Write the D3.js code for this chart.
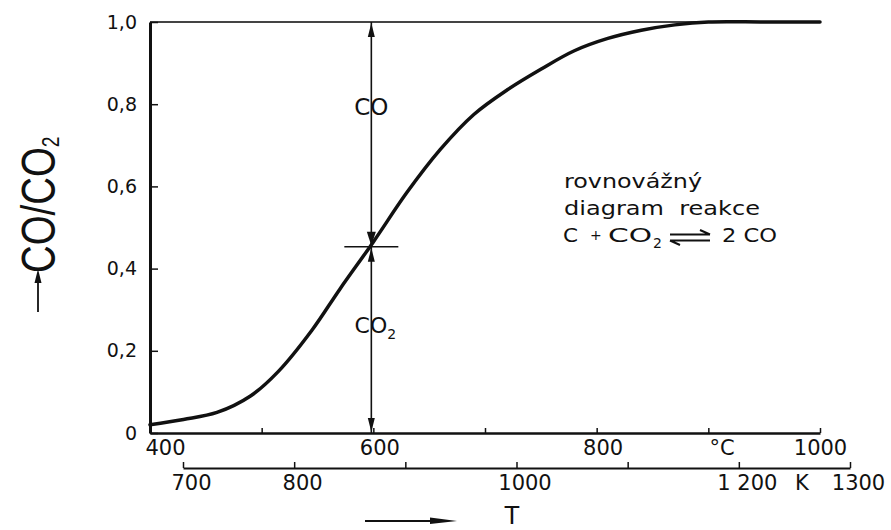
<!DOCTYPE html>
<html>
<head>
<meta charset="utf-8">
<script src="https://cdn.jsdelivr.net/npm/d3@7"></script>
<style>
  html, body { margin: 0; padding: 0; background: #fff; }
  svg { display: block; }
</style>
</head>
<body>
<svg id="chart" width="891" height="530"></svg>
<script>
// ---- data ----
const tempC   = [400, 430, 460, 490, 515, 545, 570, 600, 630, 660, 690, 720, 750, 780, 810, 840, 870, 900, 950, 1000];
const coRatio = [0.02, 0.033, 0.05, 0.09, 0.15, 0.25, 0.35, 0.465, 0.585, 0.69, 0.775, 0.835, 0.885, 0.93, 0.96, 0.98, 0.993, 1.0, 1.0, 1.0];

const yTicks       = [0, 0.2, 0.4, 0.6, 0.8, 1.0];
const yTickLabels  = ["0", "0,2", "0,4", "0,6", "0,8", "1,0"];
const celsiusTicks  = [400, 500, 600, 700, 800, 900, 1000];
const celsiusLabels = ["400", "", "600", "", "800", "", "1000"];
const kelvinTicks   = [700, 800, 900, 1000, 1100, 1200, 1300];
const kelvinLabels  = ["700", "800", "", "1000", "", "1 200", "1300"];

const eqTemp = 600;      // marked temperature (°C)
const eqRatio = 0.453;   // CO fraction at that temperature

// ---- scales ----
const svg = d3.select("#chart");
const ink = "#111";
const x  = d3.scaleLinear().domain([400, 1000]).range([150, 820]);
const xK = d3.scaleLinear().domain([700, 1300]).range([183, 850]);
const y  = d3.scaleLinear().domain([0, 1]).range([433, 22]);

const tickFont = "DejaVu Sans, sans-serif";

// top frame line at 1.0
svg.append("line")
  .attr("x1", x(400)).attr("x2", x(1000))
  .attr("y1", y(1)).attr("y2", y(1))
  .attr("stroke", "#444").attr("stroke-width", 1.8);

// ---- y axis ----
const gy = svg.append("g").attr("transform", `translate(${x(400)},0)`)
  .call(d3.axisLeft(y).tickValues(yTicks)
        .tickFormat((d, i) => yTickLabels[i])
        .tickSizeInner(-8).tickSizeOuter(0).tickPadding(13));
gy.select(".domain").attr("stroke", ink).attr("stroke-width", 3);
gy.selectAll(".tick line").attr("stroke", ink).attr("stroke-width", 1.5);
gy.selectAll(".tick text").attr("font-family", tickFont).attr("font-size", 19).attr("fill", ink);

// ---- °C axis ----
const gc = svg.append("g").attr("transform", `translate(0,${y(0)})`)
  .call(d3.axisBottom(x).tickValues(celsiusTicks)
        .tickFormat((d, i) => celsiusLabels[i])
        .tickSizeInner(-5).tickSizeOuter(0).tickPadding(7));
gc.select(".domain").attr("stroke", ink).attr("stroke-width", 2.5);
gc.selectAll(".tick line").attr("stroke", ink).attr("stroke-width", 1.5);
gc.selectAll(".tick text").attr("font-family", tickFont).attr("font-size", 21).attr("fill", ink)
  .attr("dx", d => d === 400 ? 15 : (d === 1000 ? 0 : 6));
svg.append("text").text("°C")
  .attr("x", 722).attr("y", y(0) + 7).attr("dy", "0.71em")
  .attr("text-anchor", "middle").attr("font-family", tickFont).attr("font-size", 21).attr("fill", ink);

// ---- K axis ----
const gk = svg.append("g").attr("transform", `translate(0,468)`)
  .call(d3.axisBottom(xK).tickValues(kelvinTicks)
        .tickFormat((d, i) => kelvinLabels[i])
        .tickSizeInner(-6).tickSizeOuter(0).tickPadding(7));
gk.select(".domain").attr("stroke", ink).attr("stroke-width", 2);
gk.selectAll(".tick line").attr("stroke", ink).attr("stroke-width", 1.5);
gk.selectAll(".tick text").attr("font-family", tickFont).attr("font-size", 21).attr("fill", ink)
  .attr("dx", 8);
svg.append("text").text("K")
  .attr("x", 802).attr("y", 468 + 7).attr("dy", "0.71em")
  .attr("text-anchor", "middle").attr("font-family", tickFont).attr("font-size", 21).attr("fill", ink);

// ---- curve ----
const line = d3.line()
  .x((d, i) => x(tempC[i]))
  .y((d, i) => y(coRatio[i]))
  .curve(d3.curveCatmullRom.alpha(0.5));
svg.append("path").datum(coRatio)
  .attr("d", line)
  .attr("fill", "none").attr("stroke", ink).attr("stroke-width", 3.5)
  .attr("stroke-linecap", "round");

// ---- vertical double arrows at marked temperature ----
const ax = x(eqTemp) - 2;
const ay = y(eqRatio);
svg.append("line")
  .attr("x1", ax).attr("x2", ax).attr("y1", y(1)).attr("y2", y(0))
  .attr("stroke", ink).attr("stroke-width", 1.6);
function arrowHead(tipX, tipY, dir, len, half) {
  // dir: -1 pointing up, +1 pointing down
  const b = tipY - dir * len;
  svg.append("path")
    .attr("d", `M${tipX},${tipY} L${tipX - half},${b} L${tipX + half},${b} Z`)
    .attr("fill", ink);
}
arrowHead(ax, y(1) + 1, -1, 14, 3.5);
arrowHead(ax, ay - 1, 1, 14, 4.5);
arrowHead(ax, ay + 1, -1, 14, 3.5);
arrowHead(ax, y(0) - 1, 1, 14, 3.5);
svg.append("line")
  .attr("x1", ax - 27).attr("x2", ax + 27).attr("y1", ay).attr("y2", ay)
  .attr("stroke", ink).attr("stroke-width", 1.6);

svg.append("text").text("CO")
  .attr("x", ax).attr("y", y(0.795)).attr("dy", "0.36em")
  .attr("text-anchor", "middle").attr("font-family", tickFont).attr("font-size", 23).attr("fill", ink);
const co2 = svg.append("text")
  .attr("x", ax + 4).attr("y", 333)
  .attr("text-anchor", "middle").attr("font-family", tickFont).attr("font-size", 22).attr("fill", ink);
co2.append("tspan").text("CO");
co2.append("tspan").text("2").attr("font-size", 14).attr("dy", 6);

// ---- annotation ----
const annFont = "DejaVu Sans, sans-serif";
svg.append("text").text("rovnovážný")
  .attr("x", 564).attr("y", 188)
  .attr("font-family", annFont).attr("font-size", 20).attr("fill", ink)
  .attr("textLength", 138).attr("lengthAdjust", "spacingAndGlyphs");
svg.append("text").text("diagram  reakce")
  .attr("x", 564).attr("y", 215)
  .attr("font-family", annFont).attr("font-size", 20).attr("fill", ink)
  .attr("textLength", 196).attr("lengthAdjust", "spacingAndGlyphs").attr("xml:space", "preserve");
const eqStyle = t => t.attr("y", 242).attr("font-family", annFont).attr("font-size", 19).attr("fill", ink);
svg.append("text").text("C").attr("x", 563).call(eqStyle)
  .attr("textLength", 15).attr("lengthAdjust", "spacingAndGlyphs");
svg.append("text").text("+").attr("x", 590).call(eqStyle).attr("font-size", 14).attr("y", 240);
const co2b = svg.append("text").attr("x", 608).call(eqStyle);
co2b.append("tspan").text("CO").attr("textLength", 44).attr("lengthAdjust", "spacingAndGlyphs");
co2b.append("tspan").text("2").attr("font-size", 14).attr("dy", 6).attr("dx", 1);
svg.append("text").text("2 CO")
  .attr("x", 722).call(eqStyle)
  .attr("textLength", 55).attr("lengthAdjust", "spacingAndGlyphs");
// equilibrium harpoons
svg.append("path")
  .attr("d", "M670,234.5 L710,234.5 M710,234.5 L700,230 M670,240.5 L710,240.5 M670,240.5 L680,245")
  .attr("fill", "none").attr("stroke", ink).attr("stroke-width", 2);

// ---- y axis title ----
const yt = svg.append("text")
  .attr("transform", "translate(55,273) rotate(-90) scale(0.8,1)")
  .attr("font-family", "Liberation Sans, sans-serif")
  .attr("font-size", 48).attr("fill", ink);
yt.append("tspan").text("CO/CO");
yt.append("tspan").text("2").attr("font-size", 24).attr("dy", 4);
// arrow in front of title
svg.append("line").attr("x1", 38).attr("x2", 38).attr("y1", 312).attr("y2", 280)
  .attr("stroke", ink).attr("stroke-width", 1.8);
svg.append("path").attr("d", "M38,269 L34.5,283 L41.5,283 Z").attr("fill", ink);

// ---- x axis title: arrow + T ----
svg.append("line").attr("x1", 365).attr("x2", 445).attr("y1", 521).attr("y2", 521)
  .attr("stroke", ink).attr("stroke-width", 1.8);
svg.append("path").attr("d", "M457,521 L430,517.5 L430,524 Z").attr("fill", ink);
svg.append("text").text("T")
  .attr("x", 512).attr("y", 524)
  .attr("text-anchor", "middle")
  .attr("font-family", "Liberation Sans, sans-serif")
  .attr("font-size", 26).attr("fill", ink);
</script>
</body>
</html>
